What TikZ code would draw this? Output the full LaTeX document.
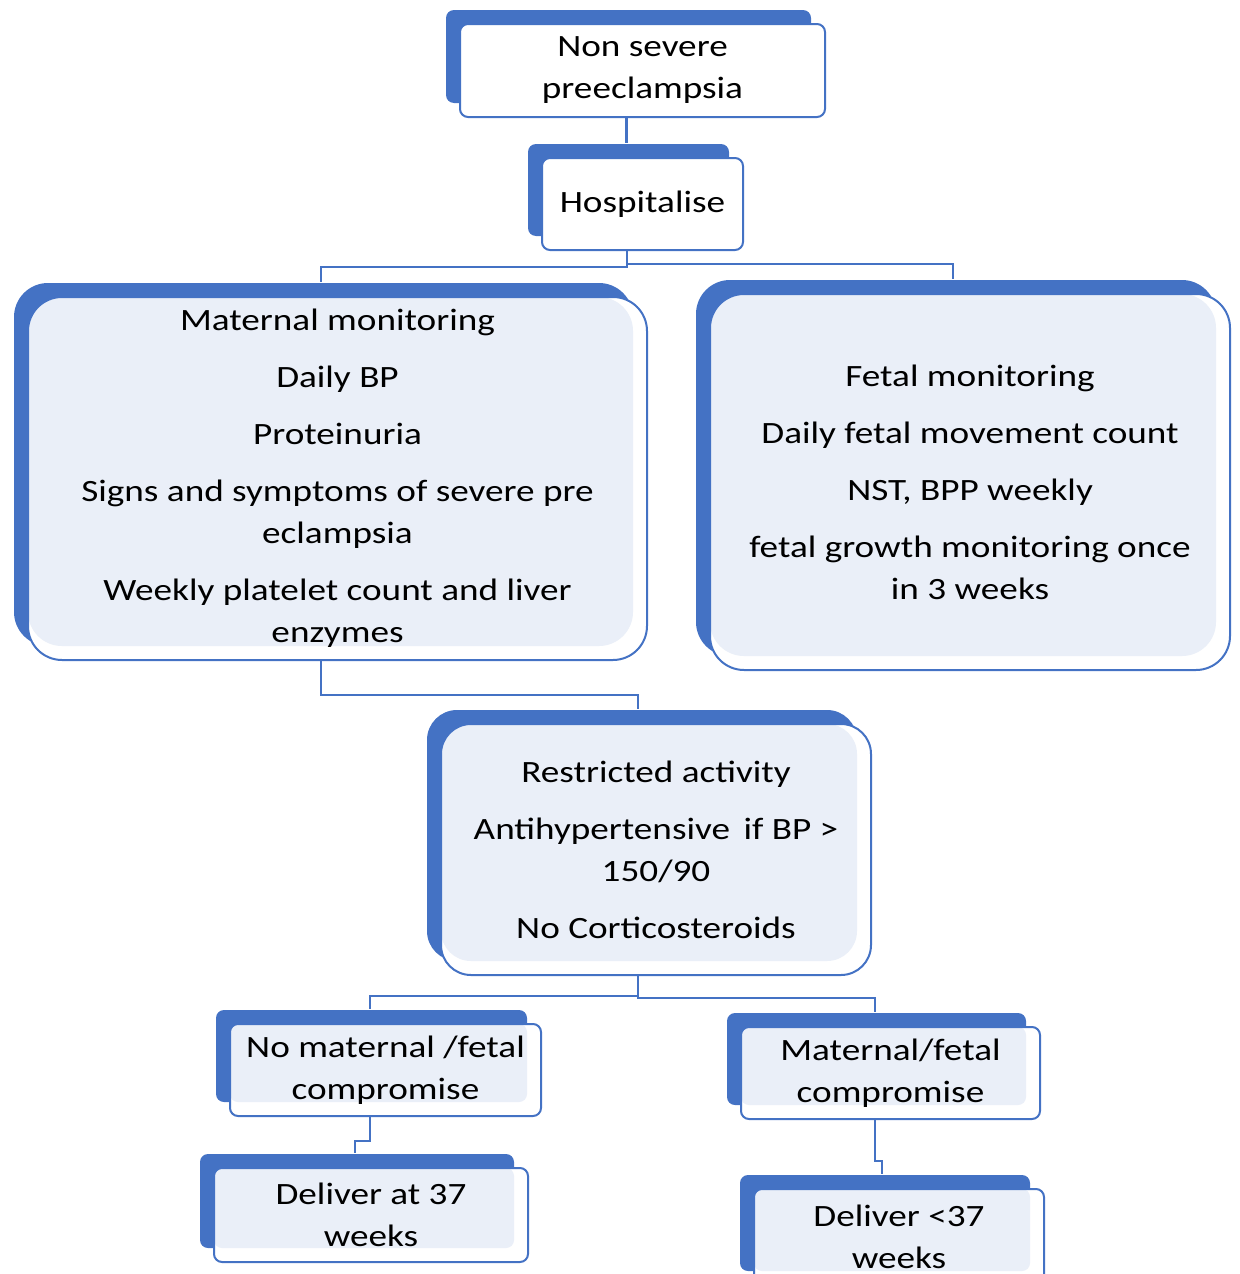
\documentclass[tikz,border=0pt]{standalone}
\usepackage{fontspec}
\setmainfont{Carlito}[FakeStretch=1.2]
\usetikzlibrary{shadows}
\definecolor{boxblue}{HTML}{4472C4}
\definecolor{tintblue}{HTML}{EAEFF8}

\begin{document}
\begin{tikzpicture}[
    x=0.5pt, y=-0.5pt,
    box/.style={rectangle, draw=boxblue, line width=1pt, fill=white, align=center, inner sep=0pt, font=\fontsize{15.5}{21}\selectfont, copy shadow={shadow xshift=-7pt, shadow yshift=7pt, fill=boxblue, draw=none}},
    topbox/.style={box, rounded corners=4pt},
    tintbox/.style={box, rounded corners=#1, path picture={\fill[tintblue, rounded corners=#1] (path picture bounding box.north west) rectangle ([xshift=-7pt, yshift=7pt]path picture bounding box.south east);}},
    link/.style={draw=boxblue, line width=1pt}
]
    \useasboundingbox (0,0) rectangle (1239,1274);

    % Top of the chart
    \node [topbox, minimum width=182.5pt, minimum height=46.5pt] (nonsevere) at (642.5,70.5) {Non severe\\preeclampsia};
    \node [topbox, minimum width=100.5pt, minimum height=46pt] (hosp) at (642.5,204) {Hospitalise};

    % Monitoring
    \node [tintbox=17pt, minimum width=309.5pt, minimum height=181.5pt] (maternal) at (337.5,478.5) {Maternal monitoring\\[7.5pt]Daily BP\\[7.5pt]Proteinuria\\[7.5pt]Signs and symptoms of severe pre\\eclampsia\\[7.5pt]Weekly platelet count and liver\\enzymes};
    \node [tintbox=17pt, minimum width=260pt, minimum height=188pt] (fetal) at (970,482) {Fetal monitoring\\[7.5pt]Daily fetal movement count\\[7.5pt]NST, BPP weekly\\[7.5pt]fetal growth monitoring once\\in 3 weeks};

    % Management
    \node [tintbox=15pt, minimum width=215pt, minimum height=125.5pt] (restricted) at (656,849.5) {Restricted activity\\[7.5pt]Antihypertensive\, if BP >\\150/90\\[7.5pt]No Corticosteroids};

    % Outcomes
    \node [tintbox=4pt, minimum width=155.5pt, minimum height=46pt] (nocomp) at (385.5,1070) {No maternal /fetal\\compromise};
    \node [tintbox=4pt, minimum width=149.5pt, minimum height=46pt] (comp) at (890.5,1073) {Maternal/fetal\\compromise};
    \node [tintbox=4pt, minimum width=157pt, minimum height=47pt] (term) at (371,1215) {Deliver at 37\\weeks};
    \node [tintbox=4pt, minimum width=145pt, minimum height=48pt] (preterm) at (899,1237) {Deliver <37\\weeks};

    % Links
    \draw [link, line width=1.5pt] ([xshift=-8pt]nonsevere.south) -- ([xshift=-8pt, yshift=7pt]hosp.north);
    \draw [link] ([xshift=-8pt]hosp.south) -- ++(0,16) -| ([xshift=-8.5pt, yshift=7pt]maternal.north);
    \draw [link] ([xshift=-8pt]hosp.south) -- ++(0,13) -| ([xshift=-8.5pt, yshift=7pt]fetal.north);
    \draw [link] ([xshift=-8.5pt]maternal.south) -- ++(0,34) -| ([xshift=-9pt, yshift=7pt]restricted.north);
    \draw [link] ([xshift=-9pt]restricted.south) -- ++(0,20) -| ([xshift=-7.75pt, yshift=7pt]nocomp.north);
    \draw [link] ([xshift=-9pt]restricted.south) -- ++(0,22) -| ([xshift=-7.75pt, yshift=7pt]comp.north);
    \draw [link] ([xshift=-7.75pt]nocomp.south) -- ++(0,24) -| ([xshift=-8pt, yshift=7pt]term.north);
    \draw [link] ([xshift=-7.75pt]comp.south) -- ++(0,41) -| ([xshift=-8.5pt, yshift=7pt]preterm.north);
\end{tikzpicture}
\end{document}
